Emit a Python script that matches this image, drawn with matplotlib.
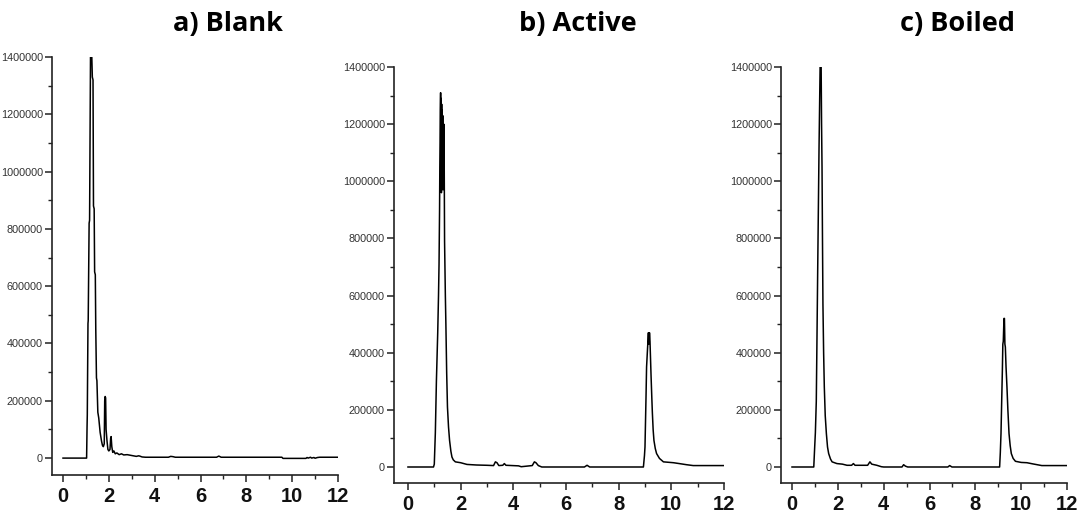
import matplotlib
matplotlib.use("Agg")
import matplotlib.pyplot as plt
from matplotlib.ticker import MultipleLocator, FixedLocator
import logging
logging.getLogger('matplotlib.font_manager').setLevel(logging.ERROR)

# ---------------- data (retention time in min, detector response) ----------------
titles = ["a) Blank", "b) Active", "c) Boiled"]
x_ticks = [0, 2, 4, 6, 8, 10, 12]
y_ticks = [0, 200000, 400000, 600000, 800000, 1000000, 1200000, 1400000]

blank_t = [0, 1.03, 1.05, 1.06, 1.09, 1.10, 1.14, 1.16, 1.20, 1.21, 1.25, 1.28, 1.31,
           1.33, 1.36, 1.38, 1.41, 1.43, 1.46, 1.48, 1.52, 1.56, 1.62, 1.68, 1.72, 1.76,
           1.80, 1.82, 1.84, 1.86, 1.88, 1.92, 1.96, 2.00, 2.05, 2.08, 2.10, 2.13, 2.17,
           2.22, 2.28, 2.35, 2.45, 2.55, 2.65, 2.8, 3.0, 3.2, 3.3, 3.35, 3.45, 3.6, 4.6,
           4.7, 4.8, 4.9, 6.7, 6.8, 6.9, 9.55, 9.6, 10.6, 10.65, 10.7, 10.8, 10.85, 10.95,
           11.0, 11.1, 11.2, 12.0]
blank_y = [0, 0, 110000, 150000, 470000, 480000, 820000, 830000, 1400000, 1420000,
           1420000, 1330000, 1320000, 880000, 870000, 650000, 640000, 450000, 280000,
           270000, 160000, 140000, 90000, 60000, 45000, 40000, 50000, 200000, 215000,
           210000, 100000, 60000, 30000, 25000, 30000, 70000, 75000, 40000, 20000, 25000,
           15000, 18000, 12000, 15000, 11000, 12000, 9000, 6000, 8000, 7000, 4000, 3000,
           3000, 6000, 5000, 3000, 3000, 7000, 3000, 3000, -1000, -1000, 2000, 0, 3000,
           0, 2000, -500, 2000, 3000, 3000]

active_t = [0, 0.97, 1.00, 1.04, 1.08, 1.13, 1.16, 1.18, 1.20, 1.21, 1.23, 1.24, 1.25,
            1.26, 1.27, 1.28, 1.29, 1.30, 1.31, 1.32, 1.33, 1.34, 1.35, 1.36, 1.37, 1.39,
            1.42, 1.44, 1.47, 1.50, 1.54, 1.58, 1.63, 1.67, 1.72, 1.8, 2.0, 2.24, 2.6,
            3.0, 3.25, 3.32, 3.38, 3.45, 3.6, 3.66, 3.72, 4.2, 4.3, 4.72, 4.8, 4.86, 4.95,
            5.08, 6.7, 6.8, 6.9, 8.94, 8.98, 9.00, 9.04, 9.06, 9.10, 9.13, 9.14, 9.15,
            9.16, 9.17, 9.19, 9.21, 9.23, 9.26, 9.28, 9.31, 9.34, 9.39, 9.44, 9.55, 9.7,
            10.08, 10.3, 10.58, 10.83, 12.0]
active_y = [0, 0, 10000, 120000, 300000, 470000, 600000, 710000, 900000, 1050000,
            1250000, 1310000, 1000000, 1290000, 960000, 1270000, 980000, 1250000, 1000000,
            1230000, 970000, 1200000, 1000000, 1200000, 1190000, 790000, 600000, 500000,
            330000, 210000, 140000, 93000, 55000, 35000, 25000, 18000, 15000, 9000, 7000,
            6000, 5000, 18000, 15000, 5000, 6000, 12000, 6000, 4000, 1000, 5000, 18000,
            15000, 5000, 0, 0, 6000, 0, 0, 40000, 70000, 250000, 350000, 420000, 470000,
            430000, 470000, 440000, 470000, 440000, 380000, 320000, 240000, 190000,
            130000, 93000, 65000, 47000, 30000, 18000, 15000, 12000, 8000, 5000, 5000]

boiled_t = [0, 0.95, 0.99, 1.02, 1.06, 1.09, 1.12, 1.15, 1.18, 1.21, 1.23, 1.27, 1.29,
            1.31, 1.33, 1.35, 1.38, 1.41, 1.45, 1.5, 1.55, 1.6, 1.68, 1.75, 1.96, 2.2,
            2.4, 2.6, 2.68, 2.75, 3.3, 3.4, 3.48, 3.7, 3.9, 4.0, 4.8, 4.87, 4.95, 5.05,
            6.8, 6.88, 6.98, 9.06, 9.09, 9.12, 9.15, 9.18, 9.20, 9.22, 9.25, 9.27, 9.29,
            9.31, 9.34, 9.38, 9.42, 9.47, 9.52, 9.57, 9.65, 9.75, 10.0, 10.25, 10.5,
            10.7, 10.9, 12.0]
boiled_y = [0, 0, 70000, 120000, 230000, 450000, 680000, 900000, 1120000, 1300000,
            1420000, 1420000, 1200000, 1050000, 800000, 570000, 400000, 280000, 180000,
            117000, 70000, 47000, 28000, 18000, 12000, 10000, 6000, 6000, 12000, 6000,
            6000, 18000, 10000, 6000, 1000, 0, 0, 8000, 3000, 0, 0, 5000, 0, 0, 50000,
            117000, 230000, 340000, 430000, 440000, 520000, 520000, 430000, 420000,
            350000, 280000, 200000, 117000, 75000, 47000, 30000, 20000, 16000, 15000,
            11000, 8000, 5000, 5000]

series = [(blank_t, blank_y), (active_t, active_y), (boiled_t, boiled_y)]

# ---------------- layout ----------------
W, H = 1084, 519
fig = plt.figure(figsize=(W / 100, H / 100), dpi=100)

# (left px, right px, top px, bottom px, xmin, ymin)
boxes = [(52, 338, 57, 475, -0.48, -59000),
         (394, 724, 67, 483, -0.53, -56000),
         (781, 1067, 67, 483, -0.48, -56000)]
title_pos = [(228, 24), (578, 24), (957, 24)]

for (t, y), (l, r, tp, b, xmin, ymin), title, (tx, ty) in zip(series, boxes, titles, title_pos):
    ax = fig.add_axes([l / W, 1 - b / H, (r - l) / W, (b - tp) / H])
    ax.plot(t, y, color="black", lw=1.1)
    ax.set_xlim(xmin, 12)
    ax.set_ylim(ymin, 1400000)
    for s in ("top", "right"):
        ax.spines[s].set_visible(False)
    for s in ("left", "bottom"):
        ax.spines[s].set_linewidth(1.2)
        ax.spines[s].set_color("#222222")
    ax.xaxis.set_major_locator(FixedLocator(x_ticks))
    ax.xaxis.set_minor_locator(MultipleLocator(1))
    ax.yaxis.set_major_locator(FixedLocator(y_ticks))
    ax.yaxis.set_minor_locator(MultipleLocator(100000))
    ax.set_yticklabels([str(v) for v in y_ticks],
                       family=["Liberation Sans Narrow", "Liberation Sans"],
                       fontsize=7.8, color="#333333")
    ax.set_xticklabels([str(v) for v in x_ticks], family="Liberation Sans",
                       fontweight="bold", fontsize=14.5, color="#111111")
    ax.tick_params(axis="both", which="major", direction="out", length=5, width=1.1,
                   color="#222222")
    ax.tick_params(axis="both", which="minor", direction="out", length=3, width=1.0,
                   color="#222222")
    ax.tick_params(axis="x", which="major", pad=4)
    ax.tick_params(axis="y", which="major", pad=1.5)
    fig.text(tx / W, 1 - ty / H, title, ha="center", va="center",
             family=["Open Sans", "DejaVu Sans"], fontweight="bold", fontsize=19.5)

fig.savefig("out.png", dpi=100, facecolor="white")
